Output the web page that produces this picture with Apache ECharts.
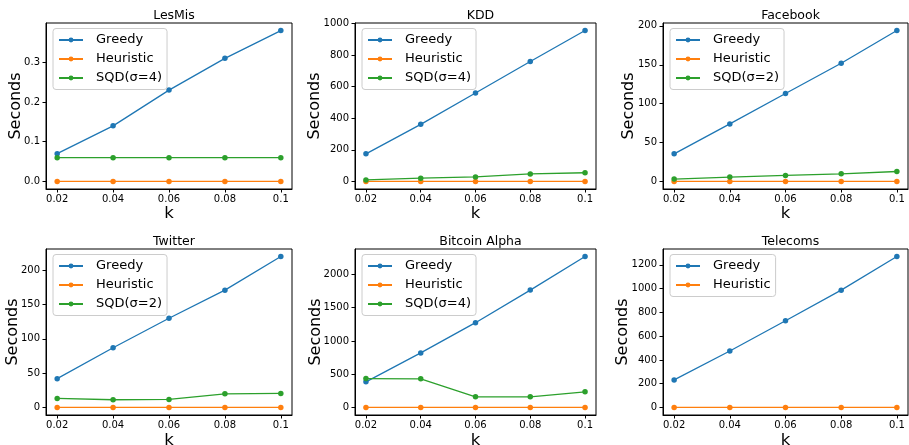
<!DOCTYPE html>
<html>
<head>
<meta charset="utf-8">
<script src="https://cdn.jsdelivr.net/npm/echarts@6/dist/echarts.min.js"></script>
<style>
html,body{margin:0;padding:0;background:#fff;}
#chart{width:909px;height:445px;}
</style>
</head>
<body>
<div id="chart"></div>
<script>
// ---- data ----
const kValues = [0.02, 0.04, 0.06, 0.08, 0.1];
const kTickLabels = ['0.02', '0.04', '0.06', '0.08', '0.1'];

const titles = ['LesMis', 'KDD', 'Facebook', 'Twitter', 'Bitcoin Alpha', 'Telecoms'];

const lesmisGreedy = [0.07, 0.14, 0.23, 0.31, 0.38];
const lesmisHeuristic = [0, 0, 0, 0, 0];
const lesmisSQD = [0.06, 0.06, 0.06, 0.06, 0.06];

const kddGreedy = [175, 362, 560, 760, 956];
const kddHeuristic = [0, 0, 0, 0, 0];
const kddSQD = [10, 21, 29, 48, 55];

const facebookGreedy = [35.5, 74, 113, 152, 194];
const facebookHeuristic = [0, 0, 0, 0, 0];
const facebookSQD = [3, 5.6, 7.7, 9.8, 12.8];

const twitterGreedy = [42, 87, 130, 171, 220];
const twitterHeuristic = [0, 0, 0, 0, 0];
const twitterSQD = [13.1, 11.2, 11.7, 19.9, 20.4];

const bitcoinGreedy = [385, 820, 1275, 1765, 2270];
const bitcoinHeuristic = [0, 0, 0, 0, 0];
const bitcoinSQD = [435, 430, 160, 160, 235];

const telecomsGreedy = [232, 475, 730, 987, 1270];
const telecomsHeuristic = [0, 0, 0, 0, 0];

const sqdNames = ['SQD(σ=4)', 'SQD(σ=4)', 'SQD(σ=2)', 'SQD(σ=2)', 'SQD(σ=4)', null];

const yTicks = [
  [0, 0.1, 0.2, 0.3],
  [0, 200, 400, 600, 800, 1000],
  [0, 50, 100, 150, 200],
  [0, 50, 100, 150, 200],
  [0, 500, 1000, 1500, 2000],
  [0, 200, 400, 600, 800, 1000, 1200]
];
const yTickLabels = [
  ['0.0', '0.1', '0.2', '0.3'],
  ['0', '200', '400', '600', '800', '1000'],
  ['0', '50', '100', '150', '200'],
  ['0', '50', '100', '150', '200'],
  ['0', '500', '1000', '1500', '2000'],
  ['0', '200', '400', '600', '800', '1000', '1200']
];

const greedyAll = [lesmisGreedy, kddGreedy, facebookGreedy, twitterGreedy, bitcoinGreedy, telecomsGreedy];
const heuristicAll = [lesmisHeuristic, kddHeuristic, facebookHeuristic, twitterHeuristic, bitcoinHeuristic, telecomsHeuristic];
const sqdAll = [lesmisSQD, kddSQD, facebookSQD, twitterSQD, bitcoinSQD, null];

// ---- layout ----
const gridBoxes = [
  {left: 46, top: 23, width: 246, height: 166},
  {left: 355, top: 23, width: 241, height: 166},
  {left: 663, top: 23, width: 245, height: 166},
  {left: 46, top: 249, width: 246, height: 166},
  {left: 355, top: 249, width: 241, height: 166},
  {left: 663, top: 249, width: 245, height: 166}
];
const nameGaps = [22, 32, 26, 25, 31, 32];
const colors = ['#1f77b4', '#ff7f0e', '#2ca02c'];
const FONT = 'DejaVu Sans';

const grids = [], xAxes = [], yAxes = [], series = [], legends = [], titlesOpt = [];

for (let i = 0; i < 6; i++) {
  const g = gridBoxes[i];
  grids.push({left: g.left, top: g.top, width: g.width, height: g.height, show: true,
    borderColor: '#000', borderWidth: 1, backgroundColor: 'transparent', containLabel: false,
    outerBoundsMode: 'none'});
  titlesOpt.push({text: titles[i], left: g.left + g.width / 2, top: g.top - 18.5, textAlign: 'center',
    textStyle: {fontFamily: FONT, fontSize: 12.5, fontWeight: 'normal', color: '#000'}});
  const allVals = greedyAll[i].concat(heuristicAll[i], sqdAll[i] || []);
  const dmin = Math.min(...allVals), dmax = Math.max(...allVals);
  const pad = (dmax - dmin) * 0.05;
  const ticks = yTicks[i], labs = yTickLabels[i];
  xAxes.push({type: 'value', gridIndex: i, min: 0.016, max: 0.104,
    name: 'k', nameLocation: 'middle', nameGap: i < 3 ? 16 : 17, nameMoveOverlap: false,
    nameTextStyle: {fontFamily: FONT, fontSize: 16.5, color: '#000'},
    axisLine: {show: true, onZero: false, lineStyle: {color: '#000', width: 1}},
    axisTick: {show: true, inside: false, length: 3.5, lineStyle: {color: '#000'}, customValues: kValues},
    axisLabel: {show: true, margin: 5, fontFamily: FONT, fontSize: 10, color: '#000', customValues: kValues,
      formatter: v => { const j = kValues.indexOf(v); return j >= 0 ? kTickLabels[j] : ''; }},
    splitLine: {show: false}});
  yAxes.push({type: 'value', gridIndex: i, min: dmin - pad, max: dmax + pad,
    name: 'Seconds', nameLocation: 'middle', nameGap: nameGaps[i], nameMoveOverlap: false,
    nameTextStyle: {fontFamily: FONT, fontSize: 16, color: '#000'},
    axisLine: {show: true, onZero: false, lineStyle: {color: '#000', width: 1}},
    axisTick: {show: true, inside: false, length: 3.5, lineStyle: {color: '#000'}, customValues: ticks},
    axisLabel: {show: true, margin: 6, fontFamily: FONT, fontSize: 10, color: '#000', customValues: ticks,
      formatter: v => { const j = ticks.indexOf(v); return j >= 0 ? labs[j] : ''; }},
    splitLine: {show: false}});
  const mk = (name, vals, color) => ({
    name: name, type: 'line', xAxisIndex: i, yAxisIndex: i,
    data: kValues.map((k, j) => [k, vals[j]]),
    symbol: 'circle', symbolSize: 5.5, color: color,
    lineStyle: {width: 1.3, color: color}, itemStyle: {color: color},
    emphasis: {disabled: true}, silent: true
  });
  series.push(mk('Greedy', greedyAll[i], colors[0]));
  series.push(mk('Heuristic', heuristicAll[i], colors[1]));
  const names = ['Greedy', 'Heuristic'];
  if (sqdAll[i]) { series.push(mk(sqdNames[i], sqdAll[i], colors[2])); names.push(sqdNames[i]); }
  legends.push({data: names, orient: 'vertical', left: g.left + 7, top: g.top + 5.5,
    itemWidth: 24, itemHeight: 6, itemGap: 6, padding: [5, 5, 5, 5],
    borderColor: '#cccccc', borderWidth: 1, borderRadius: 3, backgroundColor: 'rgba(255,255,255,0.8)',
    selectedMode: false,
    textStyle: {fontFamily: FONT, fontSize: 13, color: '#000', padding: [0, 0, 0, 8]}});
}

const chart = echarts.init(document.getElementById('chart'), null, {renderer: 'canvas'});
chart.setOption({
  animation: false,
  backgroundColor: '#fff',
  title: titlesOpt,
  grid: grids,
  xAxis: xAxes,
  yAxis: yAxes,
  legend: legends,
  series: series
});
</script>
</body>
</html>
